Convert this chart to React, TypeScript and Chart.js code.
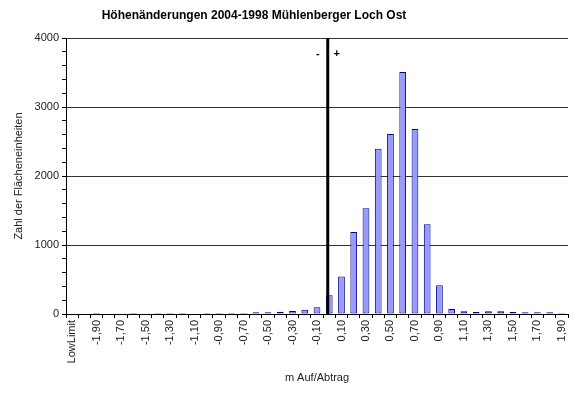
import React, { useEffect, useRef } from "react";
import { Chart, registerables } from "chart.js";

Chart.register(...registerables);

const TITLE = "Höhenänderungen 2004-1998 Mühlenberger Loch Ost";
const Y_TITLE = "Zahl der Flächeneinheiten";
const X_TITLE = "m Auf/Abtrag";

const categories = [
  "LowLimit", "-2,00", "-1,90", "-1,80", "-1,70", "-1,60", "-1,50", "-1,40", "-1,30", "-1,20",
  "-1,10", "-1,00", "-0,90", "-0,80", "-0,70", "-0,60", "-0,50", "-0,40", "-0,30", "-0,20",
  "-0,10", "0,00", "0,10", "0,20", "0,30", "0,40", "0,50", "0,60", "0,70", "0,80",
  "0,90", "1,00", "1,10", "1,20", "1,30", "1,40", "1,50", "1,60", "1,70", "1,80", "1,90",
];

const counts = [
  0, 0, 15, 0, 0, 15, 0, 15, 15, 15,
  0, 15, 15, 15, 15, 24, 26, 34, 44, 63,
  97, 272, 542, 1190, 1534, 2395, 2608, 3508, 2680, 1301,
  416, 72, 40, 30, 40, 40, 30, 24, 24, 24, 15,
];

const Y_MIN = 0;
const Y_MAX = 4000;
const Y_STEP = 200;
const Y_LABEL_STEP = 1000;
const ZERO_CATEGORY = "0,00";

const FONT = "'Liberation Sans', Arial, sans-serif";

const overlayPlugin = {
  id: "overlay",
  afterDatasetsDraw(chart: any) {
    const { ctx, chartArea, scales } = chart;
    const x = scales.x.getPixelForValue(categories.indexOf(ZERO_CATEGORY)) - 1.5;
    ctx.save();
    ctx.strokeStyle = "#000";
    ctx.lineWidth = 3;
    ctx.beginPath();
    ctx.moveTo(x, chartArea.top);
    ctx.lineTo(x, chartArea.bottom);
    ctx.stroke();
    ctx.fillStyle = "#000";
    ctx.font = `bold 11px ${FONT}`;
    ctx.textAlign = "center";
    ctx.textBaseline = "middle";
    ctx.fillText("-", x - 10, chartArea.top + 16);
    ctx.fillText("+", x + 9, chartArea.top + 16);
    ctx.restore();
  },
  afterDraw(chart: any) {
    const { ctx } = chart;
    ctx.save();
    ctx.fillStyle = "#000";
    ctx.font = `bold 12px ${FONT}`;
    ctx.textAlign = "center";
    ctx.textBaseline = "middle";
    ctx.fillText(TITLE, 254, 16);
    ctx.restore();
  },
};

export default function App() {
  const ref = useRef<HTMLCanvasElement>(null);
  useEffect(() => {
    if (!ref.current) return;
    const chart = new Chart(ref.current, {
      type: "bar",
      data: {
        labels: categories,
        datasets: [
          {
            data: counts,
            backgroundColor: "#9999FF",
            borderColor: "#000080",
            borderWidth: 1,
            borderSkipped: false,
            categoryPercentage: 1,
            barPercentage: 0.55,
          },
        ],
      },
      options: {
        animation: false,
        responsive: false,
        devicePixelRatio: 1,
        layout: { padding: { top: 38, right: 12, left: 0, bottom: 0 } },
        plugins: {
          legend: { display: false },
          tooltip: { enabled: false },
          title: { display: false },
        },
        scales: {
          x: {
            afterFit: (s: any) => {
              s.height = 80;
            },
            grid: {
              offset: true,
              drawOnChartArea: false,
              color: "#000",
              tickColor: "#000",
              tickLength: 4,
            },
            border: { display: true, color: "#000", width: 1 },
            ticks: {
              autoSkip: false,
              maxRotation: 90,
              minRotation: 90,
              padding: 2,
              color: "#222",
              font: { family: FONT, size: 11 },
              callback: (_v: any, i: number) => (i % 2 === 0 ? categories[i] : ""),
            },
            title: {
              display: true,
              text: X_TITLE,
              color: "#222",
              font: { family: FONT, size: 11 },
              padding: { top: 0, bottom: 9 },
            },
          },
          y: {
            min: Y_MIN,
            max: Y_MAX,
            afterFit: (s: any) => {
              s.width = 66;
            },
            grid: {
              color: (c: any) =>
                c.tick && c.tick.value % Y_LABEL_STEP === 0 && c.tick.value !== 0 ? "#333" : "rgba(0,0,0,0)",
              tickColor: "#000",
              tickLength: 4,
              lineWidth: 1,
            },
            border: { display: true, color: "#000", width: 1 },
            ticks: {
              stepSize: Y_STEP,
              autoSkip: false,
              padding: 3,
              color: "#222",
              font: { family: FONT, size: 11 },
              callback: (v: any) => (Number(v) % Y_LABEL_STEP === 0 ? String(v) : ""),
            },
            title: {
              display: true,
              text: Y_TITLE,
              color: "#222",
              font: { family: FONT, size: 11 },
              padding: { top: 12, bottom: 0 },
            },
          },
        },
      },
      plugins: [overlayPlugin],
    });
    return () => chart.destroy();
  }, []);
  return (
    <div style={{ position: "absolute", left: 0, top: 0, width: 580, height: 394, background: "#fff" }}>
      <canvas ref={ref} width={580} height={394} />
    </div>
  );
}
